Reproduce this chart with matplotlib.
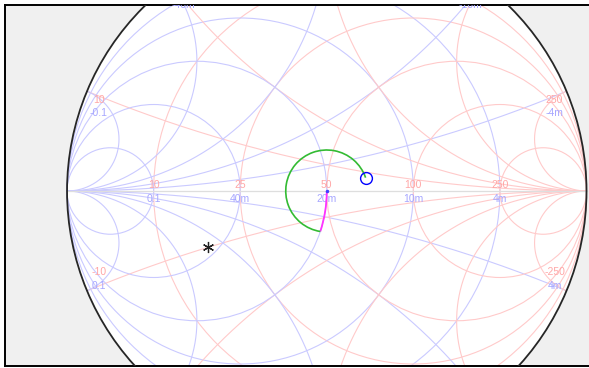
import numpy as np
import matplotlib.pyplot as plt
from matplotlib.patches import Circle, Arc

Z0 = 50.0

# grid circle values (normalised), drawn as complete circles / arcs
grid_vals = [0.2, 0.5, 1.0, 2.0, 5.0]

# labels along the real axis: ohms above, siemens below
r_tick_labels = ['10', '25', '50', '100', '250']
g_tick_labels = ['0.1', '40m', '20m', '10m', '4m']

# reactance values at the rim with their ohm / siemens labels
rim_x = [0.2, 0.5, 1.0, 2.0, 5.0, -0.2, -0.5, -1.0, -2.0, -5.0]
rim_z_labels = ['10', '25', '50', '100', '250', '-10', '-25', '-50', '-100', '-250']
rim_y_labels = ['-0.1', '-40m', '-20m', '-10m', '-4m', '0.1', '40m', '20m', '10m', '4m']

# matching network: shunt susceptance sweep then a length of line
shunt_b = [0.0, 0.32]     # normalised susceptance
line_wl = [0.0, 0.336]    # wavelengths toward generator
z_load = 17.2 - 10.0j     # ohms, marked with the asterisk

RED = '#ffcaca'
BLUE = '#cacaff'
RED_TXT = '#ffa6a6'
BLUE_TXT = '#a6a6ff'


def gamma(z):
    return (z - 1) / (z + 1)


plt.rcParams['font.family'] = ['Liberation Sans', 'DejaVu Sans']

fig = plt.figure(figsize=(5.89, 3.68), dpi=100)
ax = fig.add_axes([4.5 / 589, 2 / 368, 588 / 589, 361 / 368])
ax.set_facecolor('#f0f0f0')
ax.set_xlim(-1.2408, 1.0231)
ax.set_ylim(-0.6744, 0.7168)
ax.set_xticks([])
ax.set_yticks([])
for s in ax.spines.values():
    s.set_linewidth(1.4)
    s.set_color('black')

ax.add_patch(Circle((0, 0), 1, facecolor='white', edgecolor='none', zorder=0))

# Z grid in red, Y grid (mirror image) in blue
for v in grid_vals:
    # constant resistance / conductance circles
    c, rho = v / (1 + v), 1 / (1 + v)
    ax.add_patch(Circle((c, 0), rho, fill=False, edgecolor=RED, lw=0.8, zorder=1))
    ax.add_patch(Circle((-c, 0), rho, fill=False, edgecolor=BLUE, lw=0.8, zorder=1))
    # constant reactance / susceptance arcs, from the rim to the open / short point
    u = np.linspace(0, np.pi / 2 - 1e-5, 1500)
    for sgn in (1, -1):
        g = gamma(np.tan(u) + 1j * sgn * v)
        ax.plot(g.real, g.imag, color=RED, lw=0.8, zorder=1)
        ax.plot(-g.real, -g.imag, color=BLUE, lw=0.8, zorder=1)

ax.plot([-1, 1], [0, 0], color='#dedede', lw=0.9, zorder=1)
ax.add_patch(Circle((0, 0), 1, facecolor='none', edgecolor='#262626', lw=1.3, zorder=3))

# labels on the real axis
for v, lz, ly in zip(grid_vals, r_tick_labels, g_tick_labels):
    gx = gamma(v)
    ax.annotate(lz, (gx, 0), xytext=(0, 4.5), textcoords='offset points',
                ha='center', va='center', color=RED_TXT, fontsize=7.5)
    ax.annotate(ly, (gx, 0), xytext=(0, -5.8), textcoords='offset points',
                ha='center', va='center', color=BLUE_TXT, fontsize=7.5)

# labels at the rim, set in from the edge point
for x, lz, ly in zip(rim_x, rim_z_labels, rim_y_labels):
    g = gamma(1j * x)
    dx = 8.6 if g.real < 0 else -8.6
    if g.imag > 0:
        dz, dy = -6.5, -15.8
    else:
        dz, dy = 13.7, 3.6
    for lab, dv, col in ((lz, dz, RED_TXT), (ly, dy, BLUE_TXT)):
        t = ax.annotate(lab, (g.real, g.imag), xytext=(dx, dv), textcoords='offset points',
                        ha='center', va='center', color=col, fontsize=7.5,
                        annotation_clip=False)
        t.set_clip_box(ax.bbox)
        t.set_clip_on(True)

# shunt element: along the g = 1 circle
g0 = gamma(1 / (1 + 1j * shunt_b[0]))
g1 = gamma(1 / (1 + 1j * shunt_b[1]))
a_start = np.degrees(np.angle(g1 + 0.5))
a_end = np.degrees(np.angle(g0 + 0.5))
ax.add_patch(Arc((-0.5, 0), 1.0, 1.0, theta1=a_start, theta2=a_end,
                 color='#ff33ff', lw=1.3, zorder=4))

# transmission line: rotation at constant |gamma|
rot = 720 * (line_wl[1] - line_wl[0])
g2 = g1 * np.exp(-1j * np.radians(rot))
a2 = np.degrees(np.angle(g2))
rad = abs(g1)
ax.add_patch(Arc((0, 0), 2 * rad, 2 * rad, theta1=a2, theta2=a2 + rot,
                 color='#33bb33', lw=1.2, zorder=4))

ax.plot(g0.real, g0.imag, '.', color='#4040ff', ms=3, zorder=5)
ax.plot(g2.real, g2.imag, 'o', mfc='none', mec='#0000ff', ms=8.5, mew=1.0, zorder=5)

gl = gamma(z_load / Z0)
ax.plot(gl.real, gl.imag, marker=(6, 2, 0), color='#202020', ms=8, mew=0.9, zorder=5)

fig.savefig('out.png', dpi=100, facecolor='white')
